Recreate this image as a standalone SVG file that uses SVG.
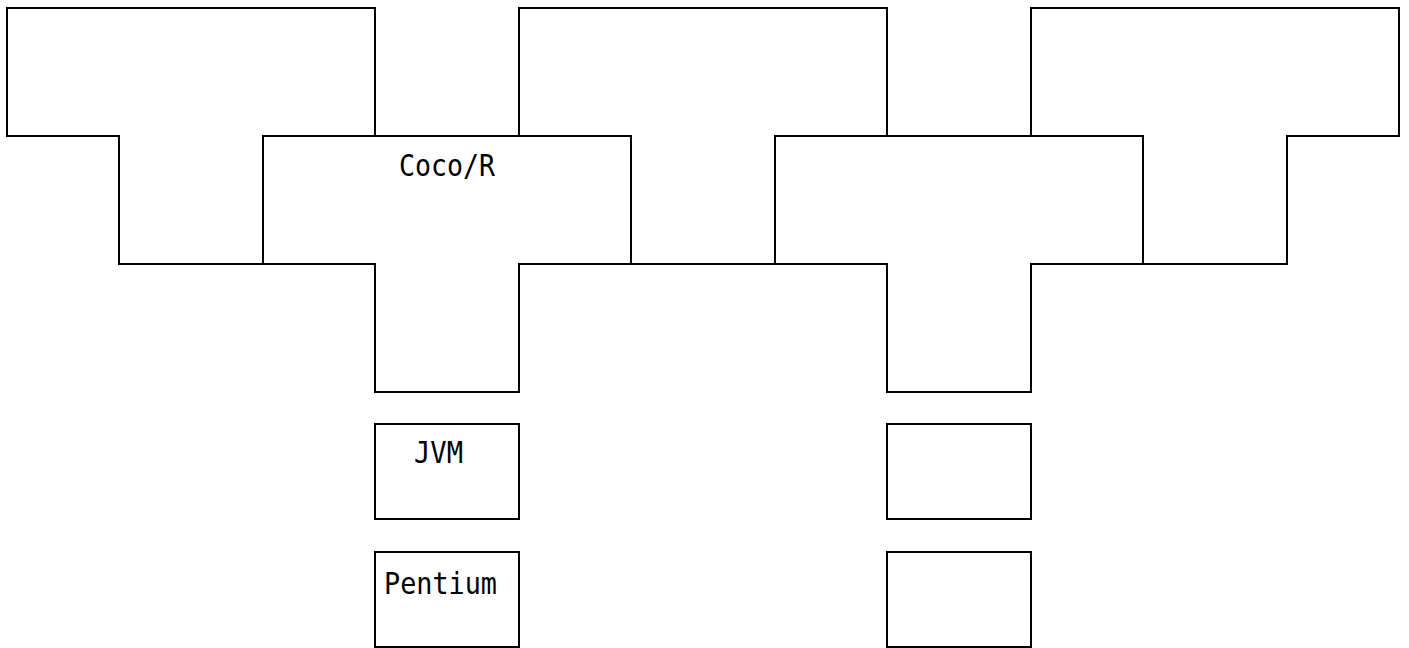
<svg xmlns="http://www.w3.org/2000/svg" width="1409" height="648" viewBox="0 0 1409 648">
<style>
.t{fill:#fff;stroke:#000;stroke-width:2;stroke-linejoin:miter}
.lbl{font-family:"DejaVu Sans Mono","Liberation Mono",monospace;font-size:30px;fill:#000}
</style>
<defs>
<path id="tee" d="M0,0 H368 V128 H256 V256 H112 V128 H0 Z"/>
</defs>
<rect width="1409" height="648" fill="#fff"/>
<g id="t1"><use href="#tee" class="t" x="7" y="8"/></g>
<g id="t3"><use href="#tee" class="t" x="519" y="8"/></g>
<g id="t5"><use href="#tee" class="t" x="1031" y="8"/></g>
<g id="t2"><use href="#tee" class="t" x="263" y="136"/>
<text class="lbl" x="399" y="176" textLength="96" lengthAdjust="spacingAndGlyphs">Coco/R</text></g>
<g id="t4"><use href="#tee" class="t" x="775" y="136"/></g>
<g id="jvm"><rect class="t" x="375" y="424" width="144" height="95"/>
<text class="lbl" x="414" y="463" textLength="49" lengthAdjust="spacingAndGlyphs">JVM</text></g>
<g id="pentium"><rect class="t" x="375" y="552" width="144" height="95"/>
<text class="lbl" x="384" y="594" textLength="113" lengthAdjust="spacingAndGlyphs">Pentium</text></g>
<g id="box3"><rect class="t" x="887" y="424" width="144" height="95"/></g>
<g id="box4"><rect class="t" x="887" y="552" width="144" height="95"/></g>
</svg>
